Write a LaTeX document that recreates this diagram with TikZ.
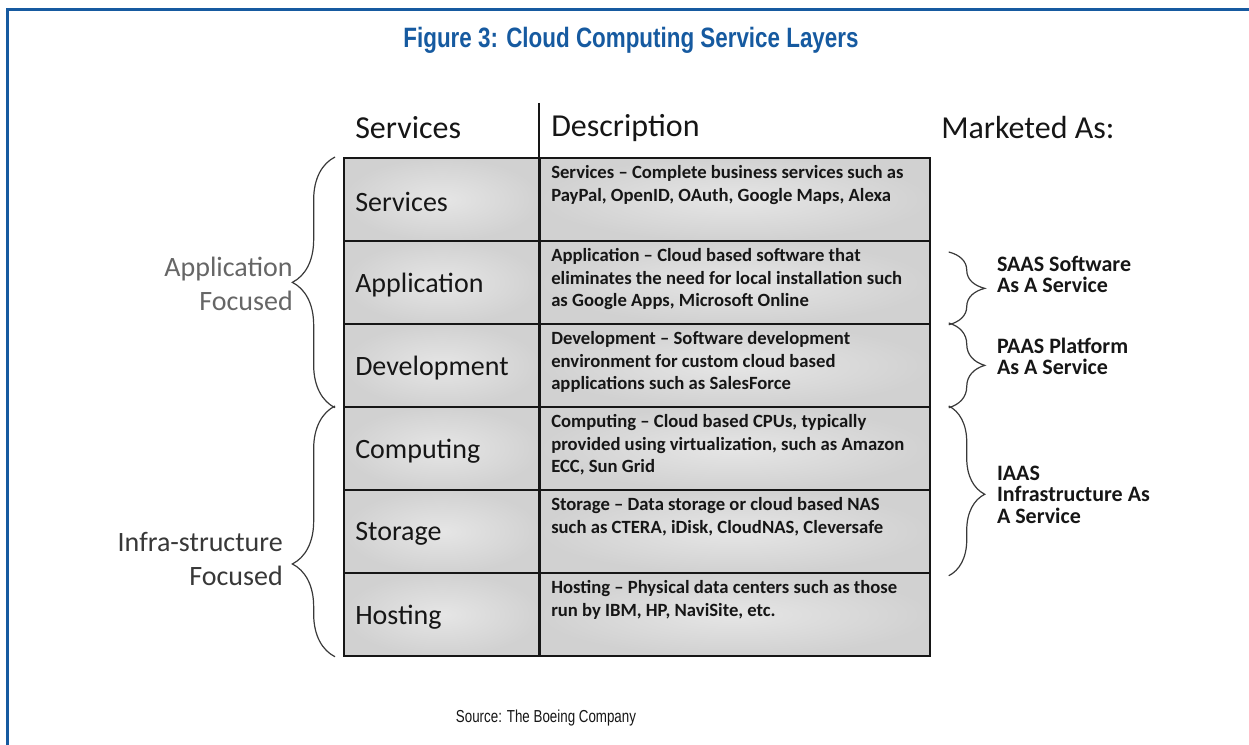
\documentclass[tikz,border=0pt]{standalone}
\usepackage{fontspec}
\setmainfont{Carlito}
\newfontfamily\headfont[FakeStretch=0.8]{Liberation Sans}
\newfontfamily\srcfont[FakeStretch=0.77]{Liberation Sans}
\usetikzlibrary{decorations.pathreplacing}

\definecolor{frameblue}{RGB}{22,90,160}
\definecolor{ink}{RGB}{22,22,22}

\tikzset{
  cellbox/.style={draw=ink, line width=1.3pt, inner sep=0pt, anchor=north west,
    minimum height=62.25pt, inner color=gray!20, outer color=gray!36},
  labcell/.style={cellbox, minimum width=147pt},
  desccell/.style={cellbox, minimum width=292.5pt},
  rowlabel/.style={anchor=west, inner sep=0pt, text=ink, font=\fontsize{21}{25}\selectfont},
  desctext/.style={anchor=north west, inner sep=0pt, align=left, text=ink,
    font=\fontsize{14}{17}\selectfont\bfseries},
  headtext/.style={anchor=west, inner sep=0pt, text=ink, font=\fontsize{24}{28}\selectfont},
  bracel/.style={decorate, draw=ink!85, line width=0.9pt},
  sidelabel/.style={anchor=east, inner sep=0pt, align=right, font=\fontsize{21}{25.5}\selectfont},
  mktlabel/.style={anchor=west, inner sep=0pt, align=left, text=ink,
    font=\fontsize{16.5}{16}\selectfont\bfseries}
}

\begin{document}
\begin{tikzpicture}[x=0.75pt,y=-0.75pt]
  \useasboundingbox (0,0) rectangle (1249,745);
  % frame
  \draw[frameblue, line width=2.25pt] (7.5,745) -- (7.5,9.5) -- (1249,9.5);
  \node[text=frameblue, font=\headfont\bfseries\fontsize{21}{24}\selectfont] (title) at (631,40)
    {Figure 3: Cloud Computing Service Layers};

  % column heads
  \node[headtext] (hdr-svc) at (355,128) {Services};
  \node[headtext] (hdr-desc) at (551,128) {Description};
  \node[headtext] (hdr-mkt) at (941,128) {Marketed As:};

  % rows of the table
  \foreach \n/\lab/\desc [count=\i from 0] in {
      svc/Services/{Services – Complete business services such as\\PayPal, OpenID, OAuth, Google Maps, Alexa},
      app/Application/{Application – Cloud based software that\\eliminates the need for local installation such\\as Google Apps, Microsoft Online},
      dev/Development/{Development – Software development\\environment for  custom cloud based\\applications such as SalesForce},
      cmp/Computing/{Computing – Cloud based CPUs, typically\\provided using virtualization, such as Amazon\\ECC, Sun Grid},
      sto/Storage/{Storage – Data storage or cloud based  NAS\\such as CTERA, iDisk, CloudNAS, Cleversafe},
      hst/Hosting/{Hosting – Physical data centers such as those\\run by IBM, HP, NaviSite, etc.}} {
    \node[labcell] (\n) at (343,{157+83*\i}) {};
    \node[desccell] (\n-d) at (539,{157+83*\i}) {};
    \node[rowlabel] (\n-lab) at ([xshift=9pt,yshift=-2pt]\n.west) {\lab};
    \node[desctext] (\n-txt) at ([xshift=9pt,yshift=-6pt]\n-d.north west) {\desc};
  }
  \coordinate (coltop) at (539,103);
  \draw[ink, line width=0.8pt] (coltop) -- (hst-d.south west);

  % left braces
  \draw[bracel, decoration={brace, amplitude=32pt, aspect=0.5}]
    ([xshift=-6pt]dev.south west) -- ([xshift=-6pt]svc.north west);
  \draw[bracel, decoration={brace, amplitude=32pt, aspect=0.37}]
    ([xshift=-6pt]hst.south west) -- ([xshift=-6pt]cmp.north west);
  \node[sidelabel, text=black!60] (appfoc) at ([xshift=-37.5pt,yshift=-1pt]app.west)
    {Application\\Focused};
  \node[sidelabel, text=black!78] (infrafoc) at ([xshift=-45pt,yshift=-20.5pt]sto.west)
    {Infra-structure\\Focused};

  % right braces
  \draw[bracel, decoration={brace, amplitude=27pt, aspect=0.5}]
    ([xshift=13.5pt,yshift=-9pt]app-d.north east) -- ([xshift=13.5pt]app-d.south east);
  \draw[bracel, decoration={brace, amplitude=27pt, aspect=0.5}]
    ([xshift=13.5pt]dev-d.north east) -- ([xshift=13.5pt]dev-d.south east);
  \draw[bracel, decoration={brace, amplitude=27pt, aspect=0.52}]
    ([xshift=13.5pt]cmp-d.north east) -- ([xshift=13.5pt,yshift=-1.5pt]sto-d.south east);
  \node[mktlabel] (saas) at ([xshift=49.5pt,yshift=6pt]app-d.east) {SAAS Software\\As A Service};
  \node[mktlabel] (paas) at ([xshift=49.5pt,yshift=7pt]dev-d.east) {PAAS Platform\\As A Service};
  \node[mktlabel] (iaas) at ([xshift=49.5pt,yshift=-3pt]cmp-d.south east) {IAAS\\Infrastructure As\\A Service};

  \node[font=\srcfont\fontsize{13}{15}\selectfont, text=ink] (src) at (546,718)
    {Source: The Boeing Company};
\end{tikzpicture}
\end{document}
